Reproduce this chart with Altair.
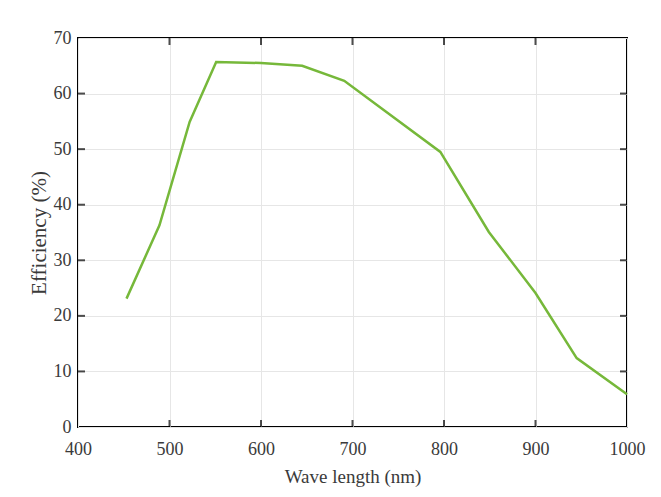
import altair as alt
import pandas as pd

wavelength = [453, 489, 522, 551, 600, 645, 691, 796, 849, 900, 945, 1000]
efficiency = [23.1, 36.3, 54.9, 65.7, 65.5, 65.0, 62.3, 49.5, 35.1, 24.1, 12.4, 5.9]
x_tick_vals = [400, 500, 600, 700, 800, 900, 1000]
y_tick_vals = [0, 10, 20, 30, 40, 50, 60, 70]
x_inner = [500, 600, 700, 800, 900]
y_inner = [10, 20, 30, 40, 50, 60]

W, H = 549, 389
df = pd.DataFrame({"wl": wavelength, "eff": efficiency})
dx = pd.DataFrame({"wl": x_inner})
dy = pd.DataFrame({"eff": y_inner})

FONT = "Liberation Serif"
xs = alt.Scale(domain=[400, 1000], nice=False, zero=False)
ys = alt.Scale(domain=[0, 70], nice=False)

line = alt.Chart(df).mark_line(color="#76b83a", strokeWidth=2.5).encode(
    x=alt.X("wl:Q", scale=xs, title="Wave length (nm)",
            axis=alt.Axis(values=x_tick_vals, format="d", grid=True, tickSize=0,
                          labelFlush=False, labelPadding=13, titlePadding=9,
                          domain=False, titleFontSize=19)),
    y=alt.Y("eff:Q", scale=ys, title="Efficiency (%)",
            axis=alt.Axis(values=y_tick_vals, format="d", grid=True, tickSize=0,
                          labelFlush=False, labelPadding=7, titlePadding=4,
                          domain=False, titleFontSize=21)),
)

tick_style = dict(color="black", thickness=2, size=7)
bt = alt.Chart(dx).mark_tick(orient="vertical", **tick_style).encode(
    x=alt.X("wl:Q", scale=xs), y=alt.value(H - 3.5))
tt = alt.Chart(dx).mark_tick(orient="vertical", **tick_style).encode(
    x=alt.X("wl:Q", scale=xs), y=alt.value(3.5))
lt = alt.Chart(dy).mark_tick(orient="horizontal", **tick_style).encode(
    y=alt.Y("eff:Q", scale=ys), x=alt.value(3.5))
rt = alt.Chart(dy).mark_tick(orient="horizontal", **tick_style).encode(
    y=alt.Y("eff:Q", scale=ys), x=alt.value(W - 3.5))

chart = alt.layer(line, bt, tt, lt, rt).properties(
    width=W, height=H,
    autosize=alt.AutoSizeParams(type="none"),
    padding={"left": 70, "top": 30, "right": 20, "bottom": 72},
).configure_view(
    stroke="black", strokeWidth=2
).configure_axis(
    gridColor="#e6e6e6", gridWidth=1,
    labelFont=FONT, labelFontSize=18, labelColor="#3a3a3a",
    titleFont=FONT, titleColor="#3a3a3a", titleFontWeight="normal",
)

chart.save("out.html", embed_options={"renderer": "svg", "actions": False})
